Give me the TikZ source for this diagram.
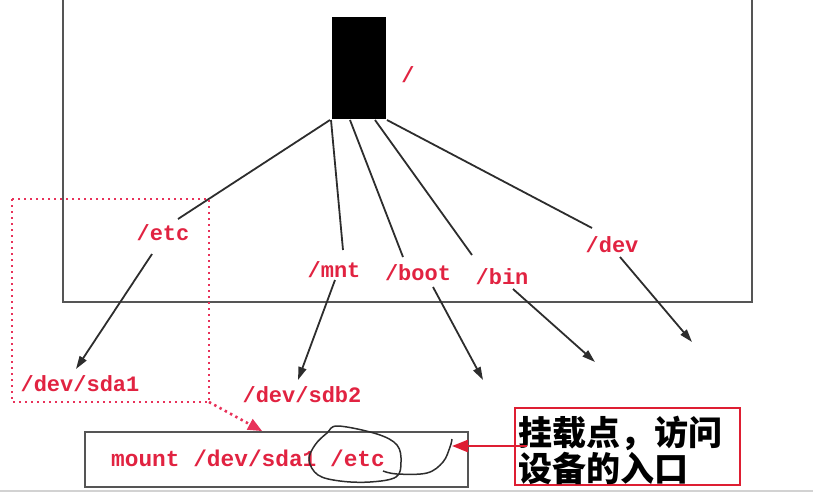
\documentclass[tikz,border=0pt]{standalone}
\usepackage{fontspec}
\setmonofont{Liberation Mono}
\newfontfamily\cjk{Noto Sans CJK SC}
\usetikzlibrary{arrows.meta,calc}
\definecolor{labelred}{RGB}{225,35,65}
\definecolor{dotred}{RGB}{232,50,90}
\definecolor{boxred}{RGB}{222,30,50}
\definecolor{framec}{RGB}{85,85,85}
\definecolor{wirec}{RGB}{45,45,45}
\tikzset{
  lbl/.style={text=labelred, font=\ttfamily\bfseries\fontsize{22}{22}\selectfont, inner sep=0pt, anchor=base},
  wire/.style={draw=wirec, line width=1.8pt},
  arr/.style={wire, -{Triangle[length=13pt,width=8pt]}},
  dots/.style={draw=dotred, line width=2.6pt, dash pattern=on 2.4pt off 3.6pt},
  cjktext/.style={font=\cjk\bfseries\fontsize{34}{34}\selectfont, inner sep=0pt, anchor=base west},
}
\begin{document}
\begin{tikzpicture}[x=1pt,y=-1pt]
\useasboundingbox (0,0) rectangle (813,498);
% screen edge
\draw[gray!35, line width=1.5pt] (0,491) -- (813,491);
% main frame (top edge off picture)
\draw[framec, line width=2.4pt] (63,0) -- (63,302) -- (752,302) -- (752,0);
% root block
\node[fill=black, minimum width=54pt, minimum height=102pt, inner sep=0pt] (root) at (359,68) {};
\node[lbl] (slash) at (408,82) {/};
% labels
\node[lbl] (etc)  at (163,240) {/etc};
\node[lbl] (mnt)  at (334,277) {/mnt};
\node[lbl] (boot) at (418,280) {/boot};
\node[lbl] (bin)  at (502,284) {/bin};
\node[lbl] (dev)  at (612,252) {/dev};
\node[lbl] (sda)  at (80,391) {/dev/sda1};
\node[lbl] (sdb)  at (302,402) {/dev/sdb2};
% branch coordinates
\coordinate (r1) at (330,120);
\coordinate (r2) at (331,120);
\coordinate (r3) at (350,120);
\coordinate (r4) at (375,120);
\coordinate (r5) at (387,120);
\coordinate (etcT) at (178,219);
\coordinate (mntT) at (343,250);
\coordinate (bootT) at (403,257);
\coordinate (binT) at (472,255);
\coordinate (devT) at (592,228);
\draw[wire] (r1) -- (etcT);
\draw[wire] (r2) -- (mntT);
\draw[wire] (r3) -- (bootT);
\draw[wire] (r4) -- (binT);
\draw[wire] (r5) -- (devT);
% arrows below labels
\coordinate (etcB) at (152,254);
\coordinate (sdaT) at (76,369);
\coordinate (mntB) at (335,280);
\coordinate (sdbT) at (298,380);
\coordinate (bootB) at (433,287);
\coordinate (bootE) at (483,380);
\coordinate (binB) at (513,289);
\coordinate (binE) at (595,362);
\coordinate (devB) at (620,257);
\coordinate (devE) at (692,342);
\draw[arr] (etcB) -- (sdaT);
\draw[arr] (mntB) -- (sdbT);
\draw[arr] (bootB) -- (bootE);
\draw[arr] (binB) -- (binE);
\draw[arr] (devB) -- (devE);
% dotted frame and arrow
\draw[dots] (12,199) rectangle (209,402);
\coordinate (dotC) at (209,402);
\coordinate (dotE) at (262,431);
\draw[dots] (dotC) -- ($(dotE)!10pt!(dotC)$);
\draw[draw=dotred, fill=dotred, line width=1.5pt, -{Triangle[length=14pt,width=12pt]}] ($(dotE)!12pt!(dotC)$) -- (dotE);
% mount box
\node[draw=framec, line width=2pt, minimum width=383pt, minimum height=55pt, inner sep=0pt] (mountbox) at (276.5,459.5) {};
\node[lbl, anchor=base west, font=\ttfamily\bfseries\fontsize{22.8}{22.8}\selectfont] (cmd) at (111,466) {mount /dev/sda1 /etc};
% hand-drawn loop
\draw[wirec, line width=1.5pt] plot[smooth cycle, tension=0.6] coordinates {(338,426) (377,434) (397,445) (401,462) (396,477) (370,482) (340,481) (318,475) (309,460) (315,445) (327,433)};
\draw[wirec, line width=1.5pt] plot[smooth, tension=0.6] coordinates {(383,471) (397,474) (427,473) (443,462) (450,447) (452,439)};
% callout
\node[draw=boxred, line width=2.2pt, minimum width=225pt, minimum height=77pt, inner sep=0pt] (callbox) at (627.5,446.5) {};
\node[cjktext] (c1) at (518,445) {挂载点，访问};
\node[cjktext] (c2) at (518,481) {设备的入口};
\coordinate (callS) at (527,446);
\coordinate (callE) at (452,446);
\draw[boxred, line width=2.5pt, -{Triangle[length=16pt,width=12pt]}] (callS) -- (callE);
\end{tikzpicture}
\end{document}
